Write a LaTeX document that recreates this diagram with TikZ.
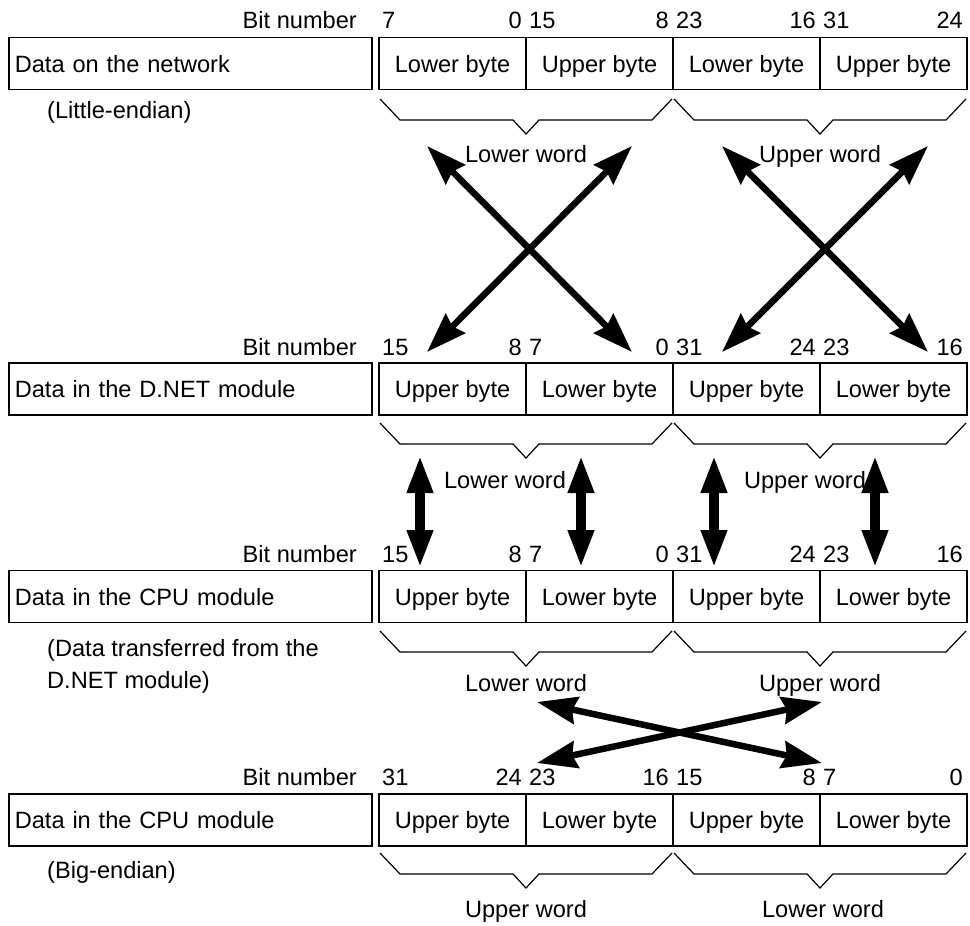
\documentclass[tikz,border=0pt]{standalone}
\usepackage{fontspec}
\setmainfont{Liberation Sans}
\usetikzlibrary{arrows.meta}

% word brace under two byte cells: left x, right x, top y
\newcommand\wordbrace[3]{%
  \draw[brace] (#1+1,#3) -- (#1+21,#3+21) -- ({(#1+#2)/2-13},#3+21)
    -- ({(#1+#2)/2},#3+35) -- ({(#1+#2)/2+13},#3+21) -- (#2-21,#3+21) -- (#2-1,#3);}

\begin{document}
\begin{tikzpicture}[x=1pt,y=-1pt,
  every node/.style={font=\fontsize{23.6}{28}\selectfont, inner sep=0pt},
  cell/.style={draw, line width=1.6pt, minimum width=147pt, minimum height=52pt,
    text height=17pt, text depth=0pt},
  labelbox/.style={draw, line width=1.6pt, minimum height=52pt, text width=351pt,
    inner xsep=6pt, align=left, text height=17pt, text depth=0pt, anchor=west},
  bitno/.style={anchor=base},
  brace/.style={line width=1.2pt, line join=miter},
  diagarrow/.style={line width=6.5pt,
    {Stealth[length=40pt,width=27pt,inset=4pt]}-{Stealth[length=40pt,width=27pt,inset=4pt]}},
  vertarrow/.style={line width=10.5pt,
    {Triangle[length=38pt,width=24pt]}-{Triangle[length=38pt,width=24pt]}}
]
\useasboundingbox (0,0) rectangle (970,926);

% ---------- rows of cells ----------
\foreach \r/\yc/\a/\b in {1/63.5/Lower/Upper, 2/389/Upper/Lower, 3/596.5/Upper/Lower, 4/820/Upper/Lower}{
  \node[cell] (c\r a) at (452.5,\yc) {\a\ byte};
  \node[cell] (c\r b) at (599.5,\yc) {\b\ byte};
  \node[cell] (c\r c) at (746.5,\yc) {\a\ byte};
  \node[cell] (c\r d) at (893.5,\yc) {\b\ byte};
}

% ---------- row titles ----------
\node[labelbox] (t1) at (8,63.5) {Data on the network};
\node[labelbox] (t2) at (8,389)  {Data in the D.NET module};
\node[labelbox] (t3) at (8,596.5) {Data in the CPU module};
\node[labelbox] (t4) at (8,820)  {Data in the CPU module};

\node[anchor=base west] (s1) at (47,118) {(Little-endian)};
\node[anchor=base west] (s3a) at (47,656) {(Data transferred from the};
\node[anchor=base west] (s3b) at (47,688) {D.NET module)};
\node[anchor=base west] (s4) at (47,878) {(Big-endian)};

% ---------- bit numbers ----------
\foreach \r/\yb/\pa/\pb/\pc/\pd/\pe/\pf/\pg/\ph in {
    1/28/7/0/15/8/23/16/31/24,
    2/355/15/8/7/0/31/24/23/16,
    3/562/15/8/7/0/31/24/23/16,
    4/785/31/24/23/16/15/8/7/0}{
  \node[anchor=base east] (bn\r) at (357,\yb) {Bit number};
  \node[anchor=base west] (b\r a) at (382,\yb) {\pa};
  \node[anchor=base east] (b\r b) at (522,\yb) {\pb};
  \node[anchor=base west] (b\r c) at (529,\yb) {\pc};
  \node[anchor=base east] (b\r d) at (669,\yb) {\pd};
  \node[anchor=base west] (b\r e) at (676,\yb) {\pe};
  \node[anchor=base east] (b\r f) at (816,\yb) {\pf};
  \node[anchor=base west] (b\r g) at (823,\yb) {\pg};
  \node[anchor=base east] (b\r h) at (963,\yb) {\ph};
}

% ---------- word braces ----------
\foreach \yt in {99,423,631,853}{
  \wordbrace{379}{673}{\yt}
  \wordbrace{673}{967}{\yt}
}

% ---------- word labels ----------
\node[anchor=base] (w1a) at (526,162) {Lower word};
\node[anchor=base] (w1b) at (820,162) {Upper word};
\node[anchor=base] (w2a) at (505,488) {Lower word};
\node[anchor=base] (w2b) at (805,488) {Upper word};
\node[anchor=base] (w3a) at (526,691) {Lower word};
\node[anchor=base] (w3b) at (820,691) {Upper word};
\node[anchor=base] (w4a) at (526,917) {Upper word};
\node[anchor=base] (w4b) at (823,917) {Lower word};

% ---------- arrow end points ----------
\coordinate (xa1) at (427,146); \coordinate (xa2) at (632,352);
\coordinate (xa3) at (632,146); \coordinate (xa4) at (427,352);
\coordinate (xb1) at (722,146); \coordinate (xb2) at (928,352);
\coordinate (xb3) at (928,146); \coordinate (xb4) at (722,352);

\coordinate (va1) at (420,455); \coordinate (va2) at (420,568);
\coordinate (vb1) at (581,455); \coordinate (vb2) at (581,568);
\coordinate (vc1) at (714,455); \coordinate (vc2) at (714,568);
\coordinate (vd1) at (875,455); \coordinate (vd2) at (875,568);

\coordinate (xc1) at (537,702); \coordinate (xc2) at (822,763);
\coordinate (xc3) at (822,702); \coordinate (xc4) at (537,763);

% network <-> D.NET module: bytes swapped in each word
\draw[diagarrow] (xa1) -- (xa2);
\draw[diagarrow] (xa3) -- (xa4);
\draw[diagarrow] (xb1) -- (xb2);
\draw[diagarrow] (xb3) -- (xb4);

% D.NET module <-> CPU module: straight copy
\draw[vertarrow] (va1) -- (va2);
\draw[vertarrow] (vb1) -- (vb2);
\draw[vertarrow] (vc1) -- (vc2);
\draw[vertarrow] (vd1) -- (vd2);

% CPU module: words swapped
\draw[diagarrow] (xc1) -- (xc2);
\draw[diagarrow] (xc3) -- (xc4);
\end{tikzpicture}
\end{document}
